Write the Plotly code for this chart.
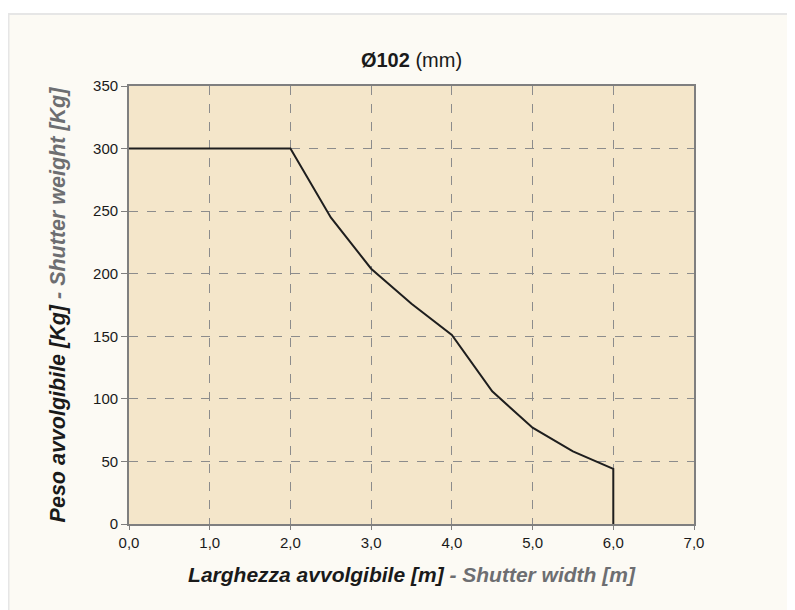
import plotly.graph_objects as go

width_m = [0.0, 2.0, 2.5, 3.0, 3.5, 4.0, 4.5, 5.0, 5.5, 6.0, 6.0]
weight_kg = [300, 300, 245, 204, 176, 151, 106, 77, 58, 44, 0]

x_tickvals = [0, 1, 2, 3, 4, 5, 6, 7]
x_ticktext = ["0,0", "1,0", "2,0", "3,0", "4,0", "5,0", "6,0", "7,0"]
y_tickvals = [0, 50, 100, 150, 200, 250, 300, 350]

W, H = 787, 602
L, R, T, B = 121, 101, 78, 86
pw, ph = W - L - R, H - T - B

def px(x):
    return (x - L) / pw

def py(y):
    return (H - B - y) / ph

fig = go.Figure()
fig.add_trace(go.Scatter(x=width_m, y=weight_kg, mode="lines",
                         line=dict(color="#1e1e1e", width=2), showlegend=False))

GREY = "#6d6e71"
fig.update_layout(
    width=W, height=H,
    margin=dict(l=L, r=R, t=T, b=B),
    paper_bgcolor="#fcfaf4",
    plot_bgcolor="#f4e6ca",
    font=dict(family="Liberation Sans, Arial, sans-serif", size=15, color="#1a1a1a"),
    title=dict(text="<b>Ø102</b> (mm)", x=0.5, xref="paper", xanchor="center",
               y=1 - 52 / H, yanchor="middle", font=dict(size=20, color="#1a1a1a")),
    xaxis=dict(range=[0, 7], tickvals=x_tickvals, ticktext=x_ticktext,
               showgrid=True, gridcolor="#8c8c8c", griddash="dash", gridwidth=1,
               showline=True, linecolor="#7f7f7f", linewidth=1.5, mirror=True,
               ticks="outside", ticklen=4, tickcolor="#7f7f7f", zeroline=False,
               title=dict(text="<b><i>Larghezza avvolgibile [m]</i></b><span style='color:%s'><b><i> - Shutter width [m]</i></b></span>" % GREY,
                          font=dict(size=21, color="#1a1a1a"), standoff=18)),
    yaxis=dict(range=[0, 350], tickvals=y_tickvals,
               showgrid=True, gridcolor="#8c8c8c", griddash="dash", gridwidth=1,
               showline=True, linecolor="#7f7f7f", linewidth=1.8, mirror=True,
               ticks="outside", ticklen=6, tickcolor="#7f7f7f", zeroline=False,
               title=dict(text="<b><i>Peso avvolgibile [Kg]</i></b><span style='color:%s'><b><i> - Shutter weight [Kg]</i></b></span>" % GREY,
                          font=dict(size=21.5, color="#1a1a1a"), standoff=22)),
    shapes=[
        dict(type="rect", xref="paper", yref="paper", layer="below",
             x0=px(0), x1=px(W), y0=py(6), y1=py(0), fillcolor="white", line=dict(width=0)),
        dict(type="line", xref="paper", yref="paper", layer="below",
             x0=px(0), x1=px(W), y0=py(6), y1=py(6), line=dict(color="#e6e6e6", width=2)),
        dict(type="line", xref="paper", yref="paper", layer="below",
             x0=px(0.5), x1=px(0.5), y0=py(6), y1=py(H), line=dict(color="#e6e6e6", width=2)),
    ],
)

fig.write_html("out.html")
